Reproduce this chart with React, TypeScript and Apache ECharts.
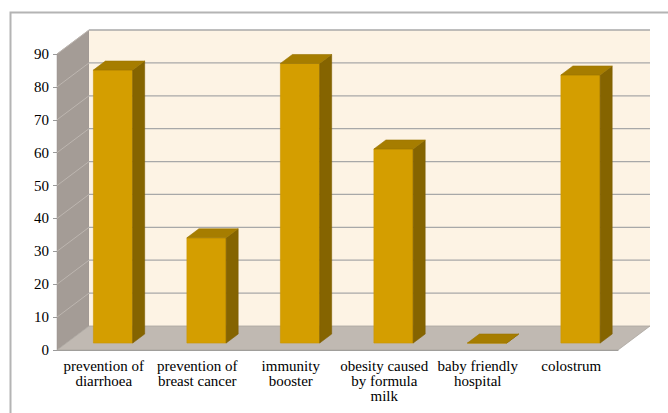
import React, { useEffect, useRef } from 'react';
import * as echarts from 'echarts';

const categories = [
  'prevention of\ndiarrhoea',
  'prevention of\nbreast cancer',
  'immunity\nbooster',
  'obesity caused\nby formula\nmilk',
  'baby friendly\nhospital',
  'colostrum',
];
const values = [83, 32, 85, 59, 0, 81.5];
const yTicks = [0, 10, 20, 30, 40, 50, 60, 70, 80, 90];

const DEPTH_X = 32;
const DEPTH_Y = -24;
const BAR_FRONT = 0.29;
const BAR_BACK = 0.665;
const BAR_WIDTH = 0.42;

export default function App() {
  const ref = useRef<HTMLDivElement>(null);
  useEffect(() => {
    document.body.style.margin = '0';
    const chart = echarts.init(ref.current!, null, { renderer: 'svg' });
    chart.setOption({
      animation: false,
      graphic: [
        {
          type: 'rect',
          left: 8,
          top: 10,
          shape: { width: 900, height: 600 },
          style: { fill: 'none', stroke: '#b4b4b4', lineWidth: 2 },
          z: -10,
          silent: true,
        },
      ],
      grid: { left: 57, right: 50, top: 54, bottom: 63 },
      xAxis: {
        type: 'category',
        data: categories,
        axisLine: { lineStyle: { color: '#9a9a9a' } },
        axisTick: { length: 5, lineStyle: { color: '#9a9a9a' } },
        axisLabel: {
          fontFamily: 'Liberation Serif',
          fontSize: 15,
          color: '#000',
          interval: 0,
        },
      },
      yAxis: {
        type: 'value',
        min: 0,
        max: 90,
        interval: 10,
        splitLine: { show: false },
        axisLabel: { fontFamily: 'Liberation Serif', fontSize: 15, color: '#000' },
        axisLine: { show: true, lineStyle: { color: '#9a9a9a' } },
        axisTick: { show: true, length: 4, lineStyle: { color: '#9a9a9a' } },
      },
      series: [
        {
          type: 'custom',
          z: 1,
          silent: true,
          data: [[0, 0]],
          renderItem: (params: any, api: any) => {
            const cs = params.coordSys;
            const x0 = cs.x;
            const x1 = cs.x + cs.width;
            const yTop = api.coord([0, yTicks[yTicks.length - 1]])[1];
            const yBot = api.coord([0, 0])[1];
            const children: any[] = [];
            children.push({
              type: 'polygon',
              shape: {
                points: [
                  [x0, yTop],
                  [x0 + DEPTH_X, yTop + DEPTH_Y],
                  [x0 + DEPTH_X, yBot + DEPTH_Y],
                  [x0, yBot],
                ],
              },
              style: { fill: '#a49c96', stroke: '#9a938e', lineWidth: 0.5 },
            });
            children.push({
              type: 'polygon',
              shape: {
                points: [
                  [x0 + DEPTH_X, yTop + DEPTH_Y],
                  [x1 + DEPTH_X, yTop + DEPTH_Y],
                  [x1 + DEPTH_X, yBot + DEPTH_Y],
                  [x0 + DEPTH_X, yBot + DEPTH_Y],
                ],
              },
              style: { fill: '#fdf3e4' },
            });
            children.push({
              type: 'polygon',
              shape: {
                points: [
                  [x0, yBot],
                  [x1, yBot],
                  [x1 + DEPTH_X, yBot + DEPTH_Y],
                  [x0 + DEPTH_X, yBot + DEPTH_Y],
                ],
              },
              style: { fill: '#c0b9b2', stroke: '#aaa49e', lineWidth: 0.8 },
            });
            yTicks.forEach((v) => {
              if (v === 0) return;
              const y = api.coord([0, v])[1];
              children.push({
                type: 'line',
                shape: { x1: x0 + DEPTH_X, y1: y + DEPTH_Y, x2: x1 + DEPTH_X, y2: y + DEPTH_Y },
                style: { stroke: '#a8a8a8', lineWidth: 1.3 },
              });
              children.push({
                type: 'line',
                shape: { x1: x0, y1: y, x2: x0 + DEPTH_X, y2: y + DEPTH_Y },
                style: { stroke: '#bdb6b0', lineWidth: 1 },
              });
            });
            return { type: 'group', children };
          },
        },
        {
          type: 'custom',
          z: 3,
          data: values.map((v, i) => [i, v]),
          renderItem: (params: any, api: any) => {
            const idx = api.value(0);
            const v = api.value(1);
            const base = api.coord([idx, 0]);
            const top = api.coord([idx, v]);
            const bw = api.size([1, 0])[0] * BAR_WIDTH;
            const fx = DEPTH_X * BAR_FRONT;
            const fy = DEPTH_Y * BAR_FRONT;
            const dx = DEPTH_X * (BAR_BACK - BAR_FRONT);
            const dy = DEPTH_Y * (BAR_BACK - BAR_FRONT);
            const l = base[0] - bw / 2 + fx;
            const r = base[0] + bw / 2 + fx;
            const yb = base[1] + fy;
            const yt = top[1] + fy;
            return {
              type: 'group',
              children: [
                {
                  type: 'polygon',
                  shape: { points: [[l, yt], [r, yt], [r, yb], [l, yb]] },
                  style: { fill: '#d49e00', stroke: '#c99500', lineWidth: 0.6 },
                },
                {
                  type: 'polygon',
                  shape: { points: [[r, yt], [r + dx, yt + dy], [r + dx, yb + dy], [r, yb]] },
                  style: { fill: '#856400', stroke: '#7d5e00', lineWidth: 0.6 },
                },
                {
                  type: 'polygon',
                  shape: { points: [[l, yt], [r, yt], [r + dx, yt + dy], [l + dx, yt + dy]] },
                  style: { fill: '#a67d00', stroke: '#9c7600', lineWidth: 0.6 },
                },
              ],
            };
          },
        },
      ],
    });
    return () => chart.dispose();
  }, []);
  return <div ref={ref} style={{ width: 668, height: 413 }} />;
}
